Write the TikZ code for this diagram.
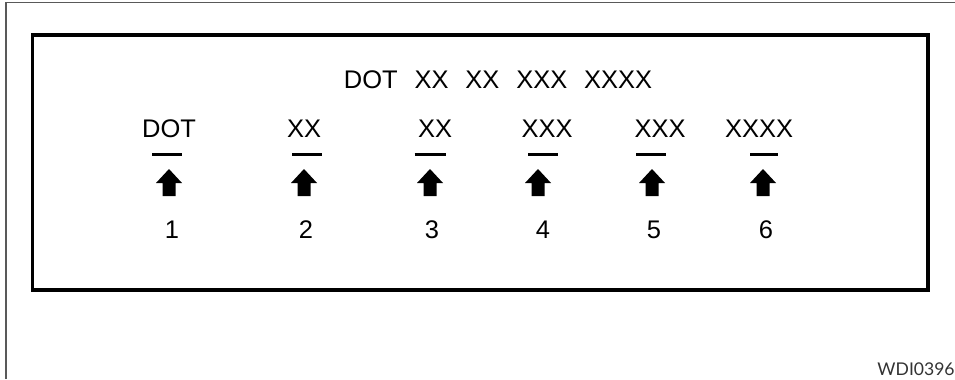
\documentclass[tikz,border=0pt]{standalone}
\usepackage{fontspec}
\setmainfont{Liberation Sans}
\newfontfamily\tagfont{Lato}

\begin{document}
\begin{tikzpicture}[x=0.02cm,y=-0.02cm,
  txt/.style={font=\fontsize{14.5}{17}\selectfont,inner sep=0pt,anchor=base},
  dashbar/.style={line width=0.06cm},
  blockarrow/.style={fill=black}]
  \useasboundingbox (0,0) rectangle (955,379);
  % frame and panel
  \draw[black!65, line width=1.1pt] (6,379) -- (6,2.5) -- (955,2.5);
  \draw[line width=2.2pt] (32.5,35) rectangle (928,290);
  % heading
  \node[txt] (title) at (498,88) {DOT\hspace{9.6pt}XX\hspace{9.6pt}XX\hspace{9.6pt}XXX\hspace{9.6pt}XXXX};
  % columns: label, bar, arrow, number
  \foreach \lx/\dx/\dw/\ax/\nx/\t/\n in {169/167/30/169/172/DOT/1, 304/307/30/304/306/XX/2,
      435/430/31/430/432/XX/3, 547/543/30/538/543/XXX/4,
      660/651/30/652/654/XXX/5, 759/764/28/763/766/XXXX/6} {
    \node[txt] (lbl\n) at (\lx,137) {\t};
    \draw[dashbar] (\dx-\dw/2,154) -- (\dx+\dw/2,154);
    \fill[blockarrow] (\ax,169) -- (\ax+13,183) -- (\ax+6.5,183) -- (\ax+6.5,196)
      -- (\ax-6.5,196) -- (\ax-6.5,183) -- (\ax-13,183) -- cycle;
    \node[txt] (num\n) at (\nx,238.5) {\n};
  }
  \node[anchor=base east, inner sep=0pt, text=black!80,
    font=\tagfont\fontsize{10}{12}\selectfont] (tag) at (955,375) {WDI0396};
\end{tikzpicture}
\end{document}
